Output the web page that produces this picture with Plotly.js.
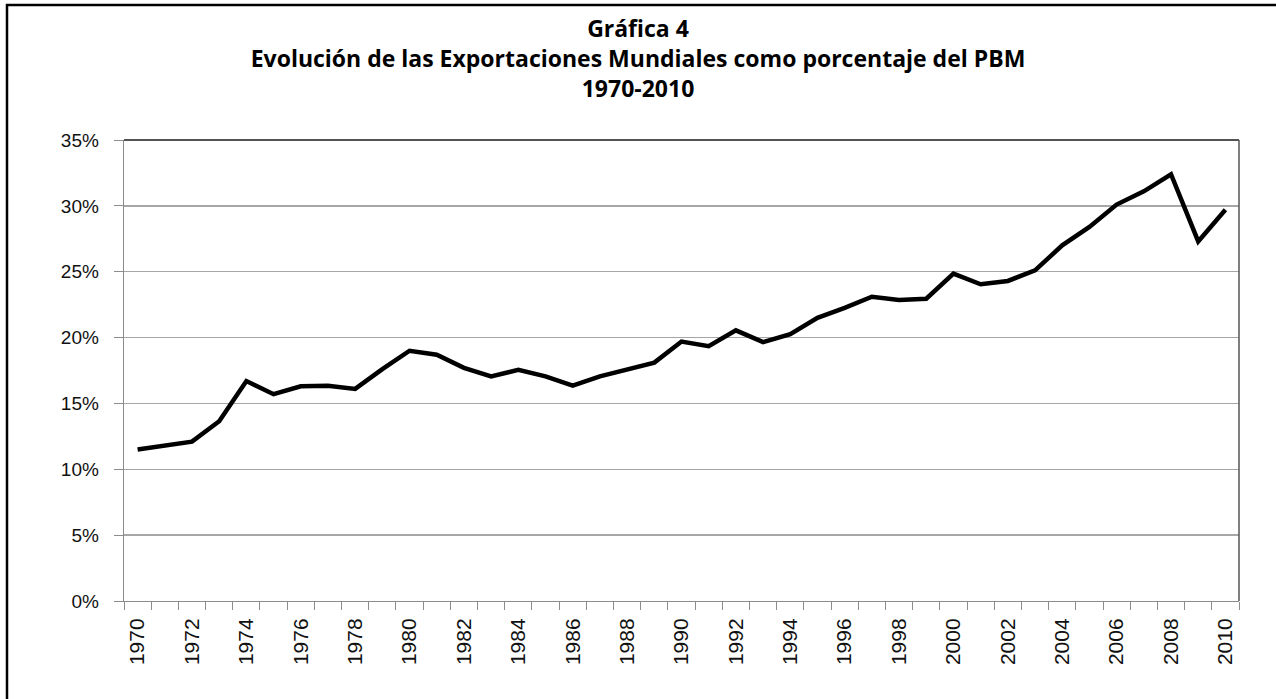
<!DOCTYPE html>
<html>
<head>
<meta charset="utf-8">
<script src="https://cdn.plot.ly/plotly-3.0.1.min.js"></script>
<style>
  html, body { margin: 0; padding: 0; background: #fff; }
  #chart { width: 1276px; height: 699px; }
</style>
</head>
<body>
<div id="chart"></div>
<script>
// Years (categories)
const years = [1970,1971,1972,1973,1974,1975,1976,1977,1978,1979,
               1980,1981,1982,1983,1984,1985,1986,1987,1988,1989,
               1990,1991,1992,1993,1994,1995,1996,1997,1998,1999,
               2000,2001,2002,2003,2004,2005,2006,2007,2008,2009,2010];
// World exports as % of world GDP (PBM)
const exportsPct = [11.5,11.8,12.1,13.65,16.7,15.7,16.3,16.35,16.1,17.6,
                    19.0,18.7,17.7,17.05,17.55,17.05,16.35,17.05,17.55,18.1,
                    19.7,19.35,20.55,19.65,20.25,21.5,22.25,23.1,22.85,22.95,
                    24.85,24.05,24.3,25.1,27.0,28.4,30.1,31.1,32.4,27.3,29.7];
// Axis tick labels
const xTickYears = [1970,1972,1974,1976,1978,1980,1982,1984,1986,1988,1990,1992,1994,1996,1998,2000,2002,2004,2006,2008,2010];
const yTickVals = [0,5,10,15,20,25,30,35];
const yTickText = ['0%','5%','10%','15%','20%','25%','30%','35%'];
const titleLines = ['Gráfica 4','Evolución de las Exportaciones Mundiales como porcentaje del PBM','1970-2010'];

const trace = {
  x: years,
  y: exportsPct,
  type: 'scatter',
  mode: 'lines',
  line: { color: '#000000', width: 4.5, shape: 'linear' },
  hoverinfo: 'x+y'
};

const L = 124, R = 37, T = 140, B = 98;
const W = 1276, H = 699;
const pw = W - L - R, ph = H - T - B;
const px = v => (v - L) / pw;
const py = v => (H - B - v) / ph;

const layout = {
  width: W, height: H,
  margin: { l: L, r: R, t: T, b: B, pad: 0 },
  paper_bgcolor: '#ffffff',
  plot_bgcolor: '#ffffff',
  showlegend: false,
  title: {
    text: titleLines.join('<br>'),
    x: 0.5, xref: 'container', xanchor: 'center',
    y: 1 - 37 / H, yref: 'container', yanchor: 'middle',
    font: { family: '"Open Sans", Lato, sans-serif', size: 23, color: '#000000', weight: 700 }
  },
  xaxis: {
    type: 'linear',
    range: [1969.5, 2010.5],
    tickmode: 'array',
    tickvals: xTickYears,
    ticktext: xTickYears.map(String),
    tickangle: -90,
    ticks: 'outside', ticklen: 8, tickcolor: 'rgba(0,0,0,0)',
    minor: { tick0: 1969.5, dtick: 1, ticks: 'outside', ticklen: 8, tickcolor: '#8c8c8c', tickwidth: 1, showgrid: false },
    showgrid: false, zeroline: false,
    showline: true, linecolor: '#8c8c8c', linewidth: 1,
    tickfont: { family: '"Liberation Sans", Arial, sans-serif', size: 21, color: '#111111' },
    fixedrange: true
  },
  yaxis: {
    range: [0, 35],
    tickmode: 'array',
    tickvals: yTickVals,
    ticktext: yTickText,
    ticks: 'outside', ticklen: 9, tickcolor: '#8c8c8c', tickwidth: 1,
    ticklabelstandoff: 11,
    showgrid: true, gridcolor: '#a6a6a6', gridwidth: 1.3,
    zeroline: false,
    showline: true, linecolor: '#8c8c8c', linewidth: 1.3,
    tickfont: { family: '"Liberation Sans", Arial, sans-serif', size: 19, color: '#111111' },
    fixedrange: true
  },
  shapes: [
    // plot area top and right edges
    { type: 'line', xref: 'paper', yref: 'paper', x0: 0, x1: 1, y0: 1, y1: 1, line: { color: '#1a1a1a', width: 1.5 } },
    { type: 'line', xref: 'paper', yref: 'paper', x0: 1, x1: 1, y0: 0, y1: 1, line: { color: '#555555', width: 1.5 } },
    // outer chart frame (extends past right and bottom edges)
    { type: 'rect', xref: 'paper', yref: 'paper', x0: px(7), x1: px(1300), y0: py(730), y1: py(5), line: { color: '#000000', width: 2.5 }, fillcolor: 'rgba(0,0,0,0)', layer: 'above' }
  ]
};

Plotly.newPlot('chart', [trace], layout, { displayModeBar: false, staticPlot: true });
</script>
</body>
</html>
